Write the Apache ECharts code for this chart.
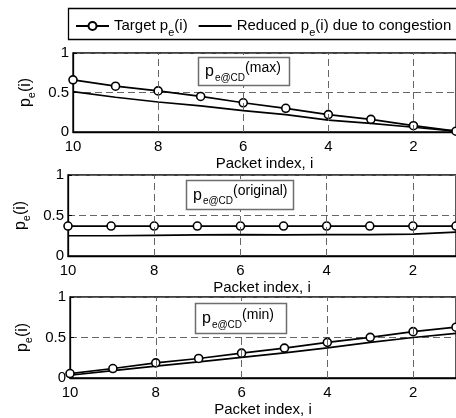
<!DOCTYPE html>
<html>
<head>
<meta charset="utf-8">
<script src="https://cdn.jsdelivr.net/npm/echarts@6/dist/echarts.min.js"></script>
<style>
html,body{margin:0;padding:0;background:#fff;}
#chart{width:456px;height:418px;}
</style>
</head>
<body>
<div id="chart"></div>
<script>
// ---- data ----
const packetIndex = [10, 9, 8, 7, 6, 5, 4, 3, 2, 1];
const xTickValues = [10, 8, 6, 4, 2];
const xGridValues = [8, 6, 4, 2];
const targetMax   = [0.66, 0.58, 0.52, 0.45, 0.37, 0.30, 0.22, 0.16, 0.08, 0.01];
const reducedMax  = [0.51, 0.44, 0.38, 0.33, 0.27, 0.22, 0.15, 0.11, 0.06, 0.01];
const targetOrig  = [0.37, 0.37, 0.37, 0.37, 0.37, 0.37, 0.37, 0.37, 0.37, 0.37];
const reducedOrig = [0.25, 0.25, 0.255, 0.26, 0.265, 0.26, 0.265, 0.265, 0.27, 0.295];
const targetMin   = [0.055, 0.117, 0.187, 0.241, 0.307, 0.369, 0.44, 0.502, 0.572, 0.627];
const reducedMin  = [0.034, 0.09, 0.146, 0.2, 0.254, 0.31, 0.373, 0.44, 0.5, 0.55];
const panelLabels = ['(max)', '(original)', '(min)'];
const legendNames = ['Target', 'Reduced'];
const xAxisTitle = 'Packet index, i';

// ---- layout / style ----
const FONT = 'Liberation Sans, Arial, Helvetica, sans-serif';
const gridPos = [
  {left: 73, top: 53, height: 79, yGap: 33},
  {left: 68, top: 175, height: 81, yGap: 28},
  {left: 70, top: 297, height: 81, yGap: 30}
];
const boxPos = [
  {x: 198, y: 57, w: 91, h: 28},
  {x: 186, y: 180, w: 107, h: 29},
  {x: 195, y: 303, w: 91, h: 30}
];
const panels = [[targetMax, reducedMax], [targetOrig, reducedOrig], [targetMin, reducedMin]];

const subRich = {
  t: {fontSize: 15, fontFamily: FONT, color: '#000', lineHeight: 18},
  s: {fontSize: 11, fontFamily: FONT, color: '#000', lineHeight: 12, padding: [13, 0, 0, 0]}
};
const nameRich = {
  t: {fontSize: 16, fontFamily: FONT, color: '#000', lineHeight: 18},
  s: {fontSize: 11, fontFamily: FONT, color: '#000', lineHeight: 12, padding: [13, 0, 0, 0]}
};

const grids = [], xAxes = [], yAxes = [], series = [], graphics = [];
gridPos.forEach((g, i) => {
  grids.push({left: g.left, top: g.top, height: g.height, right: 0,
    show: true, borderColor: '#000', borderWidth: 1.3, backgroundColor: '#fff'});
  xAxes.push({
    type: 'value', gridIndex: i, min: 1, max: 10, interval: 1, inverse: true,
    name: xAxisTitle, nameLocation: 'middle', nameGap: 24,
    nameTextStyle: {fontSize: 15, fontFamily: FONT, color: '#000'},
    axisLine: {show: true, lineStyle: {color: '#000', width: 1.3}},
    axisTick: {show: true, inside: true, length: 4, customValues: xTickValues, lineStyle: {color: '#000'}},
    axisLabel: {show: true, customValues: xTickValues, margin: 7, fontSize: 15, fontFamily: FONT, color: '#000',
      formatter: v => (v % 2 === 0 ? String(v) : '')},
    splitLine: {show: false}
  });
  yAxes.push({
    type: 'value', gridIndex: i, min: 0, max: 1, interval: 0.5,
    name: '{t|p}{s|e}{t|(i)}', nameLocation: 'middle', nameGap: g.yGap, nameRotate: 90,
    nameTextStyle: {rich: nameRich},
    axisLine: {show: true, lineStyle: {color: '#000', width: 1.3}},
    axisTick: {show: true, inside: true, length: 4, lineStyle: {color: '#000'}},
    axisLabel: {margin: 4, fontSize: 15, fontFamily: FONT, color: '#000',
      formatter: v => String(v)},
    splitLine: {show: true, lineStyle: {color: '#666', type: [7, 4], width: 1}}
  });
  const [tgt, red] = panels[i];
  series.push({
    name: legendNames[1], type: 'line', xAxisIndex: i, yAxisIndex: i,
    data: packetIndex.map((x, k) => [x, red[k]]),
    symbol: 'none', lineStyle: {color: '#000', width: 1.7}, itemStyle: {color: '#000', opacity: 0},
    silent: true, animation: false, z: 3,
    markLine: {
      silent: true, symbol: 'none', label: {show: false},
      lineStyle: {color: '#666', type: [7, 4], width: 1, opacity: 1},
      data: xGridValues.map(v => ({xAxis: v}))
    }
  });
  series.push({
    name: legendNames[0], type: 'line', xAxisIndex: i, yAxisIndex: i,
    data: packetIndex.map((x, k) => [x, tgt[k]]),
    symbol: 'circle', symbolSize: 8, showAllSymbol: true,
    lineStyle: {color: '#000', width: 1.7},
    itemStyle: {color: '#fff', borderColor: '#000', borderWidth: 1.6},
    silent: true, animation: false, z: 4
  });
  const b = boxPos[i];
  graphics.push({
    type: 'rect', z: 50,
    shape: {x: b.x + 0.5, y: b.y + 0.5, width: b.w, height: b.h},
    style: {fill: '#fff', stroke: '#6e6e6e', lineWidth: 1.5}
  });
  graphics.push({
    type: 'text', z: 51, x: b.x + 7, y: b.y + b.h / 2 + 1,
    style: {
      text: '{t|p}{s|e@CD}{u|' + panelLabels[i] + '}',
      verticalAlign: 'middle', align: 'left',
      rich: {
        t: {fontSize: 16, fontFamily: FONT, fill: '#000', lineHeight: 18},
        s: {fontSize: 10, fontFamily: FONT, fill: '#000', lineHeight: 11, padding: [12, 0, 0, 1]},
        u: {fontSize: 14, fontFamily: FONT, fill: '#000', lineHeight: 14, padding: [0, 0, 8, 0]}
      }
    }
  });
});

graphics.push({
  type: 'rect', z: 0,
  shape: {x: 68.5, y: 8.5, width: 420, height: 31},
  style: {fill: 'none', stroke: '#000', lineWidth: 1.3}
});

const chart = echarts.init(document.getElementById('chart'), null, {renderer: 'canvas'});
chart.setOption({
  animation: false,
  backgroundColor: '#fff',
  grid: grids,
  xAxis: xAxes,
  yAxis: yAxes,
  series: series,
  graphic: graphics,
  legend: {
    show: true, left: 75, top: 14, padding: 0, itemGap: 10,
    itemWidth: 33, itemHeight: 10,
    data: legendNames,
    selectedMode: false,
    formatter: n => n === 'Target'
      ? '{t|Target p}{s|e}{t|(i)}'
      : '{t|Reduced p}{s|e}{t|(i) due to congestion}',
    textStyle: {rich: subRich}
  }
});
</script>
</body>
</html>
